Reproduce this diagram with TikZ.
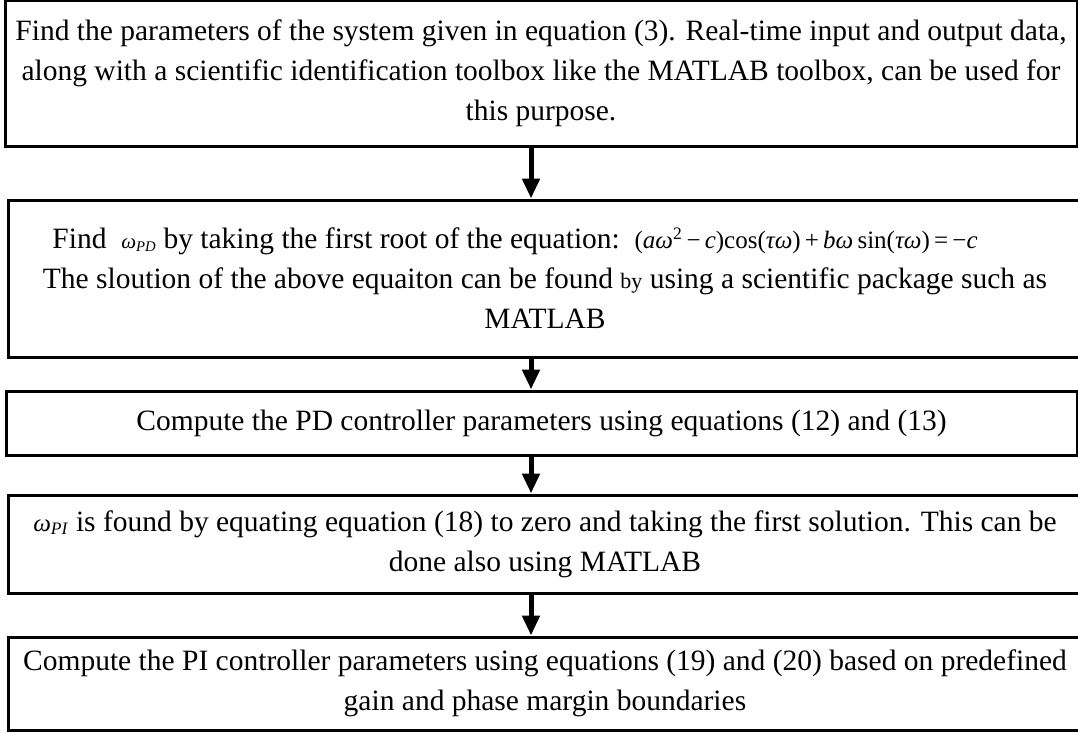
\documentclass[tikz,border=0pt]{standalone}
\usepackage{fontspec}
\setmainfont{Liberation Serif}
\usetikzlibrary{arrows.meta}
\newcommand{\eqsize}{\fontsize{25}{28}\selectfont}
\newcommand{\symsize}{\fontsize{21}{24}\selectfont}
\begin{document}
\begin{tikzpicture}[x=1pt,y=-1pt,
  stepbox/.style={draw=black, line width=3pt, inner sep=0pt, align=center,
    font=\fontsize{29.5}{40}\selectfont},
  flow/.style={line width=5pt, -{Triangle[width=17pt,length=20pt]}}]
\useasboundingbox (0,0) rectangle (1078,733);
\clip (0,0) rectangle (1078,733);

% process steps
\node[stepbox, minimum width=1072pt, minimum height=145pt] (b1) at (541,73.5)
  {Find the parameters of the system given in equation (3). Real-time input and output data,\\
   along with a scientific identification toolbox like the MATLAB toolbox, can be used for\\
   this purpose.};
\node[stepbox, minimum width=1074pt, minimum height=157pt] (b2) at (545,278.5)
  {Find\ \ {\symsize\textit{ω}\textsubscript{\textit{PD}}} by taking the first root of the equation:\ \
   {\eqsize(\textit{aω}\textsuperscript{2}\,−\,\textit{c})cos(\textit{τω})\,+\,\textit{bω}\,sin(\textit{τω})\,=\,−\textit{c}}\hspace*{60pt}\\
   The sloution of the above equaiton can be found {\fontsize{22}{24}\selectfont by} using a scientific package such as\\
   MATLAB};
\node[stepbox, minimum width=1071pt, minimum height=64pt] (b3) at (541.5,423)
  {Compute the PD controller parameters using equations (12) and (13)};
\node[stepbox, minimum width=1074pt, minimum height=98pt] (b4) at (545,544)
  {{\eqsize\textit{ω}\textsubscript{\textit{PI}}} is found by equating equation (18) to zero and taking the first solution. This can be\\
   done also using MATLAB};
\node[stepbox, minimum width=1074pt, minimum height=93pt] (b5) at (545,683.5)
  {Compute the PI controller parameters using equations (19) and (20) based on predefined\\
   gain and phase margin boundaries};

% connectors
\coordinate (ax) at (531,0);
\draw[flow] (b1.south -| ax) -- (b2.north -| ax);
\draw[flow] (b2.south -| ax) -- (b3.north -| ax);
\draw[flow] (b3.south -| ax) -- (b4.north -| ax);
\draw[flow] (b4.south -| ax) -- (b5.north -| ax);
\end{tikzpicture}
\end{document}
